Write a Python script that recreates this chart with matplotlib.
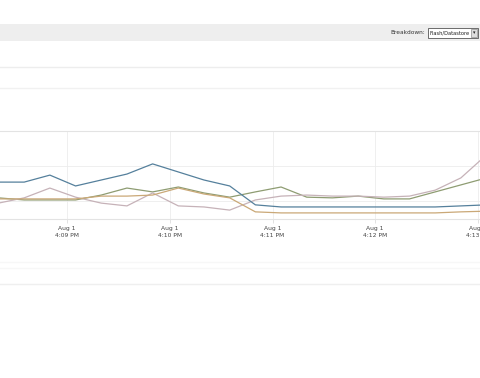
import matplotlib
matplotlib.use("Agg")
import matplotlib.pyplot as plt
from matplotlib.patches import Rectangle
import pandas as pd

# sample times (every 15 s) and series values
times = ["16:08:20", "16:08:35", "16:08:50", "16:09:05", "16:09:20",
         "16:09:35", "16:09:50", "16:10:05", "16:10:20", "16:10:35",
         "16:10:50", "16:11:05", "16:11:20", "16:11:35", "16:11:50",
         "16:12:05", "16:12:20", "16:12:35", "16:12:50", "16:13:05"]

blue = [15.4, 15.4, 17.4, 14.3, 16.0, 17.7, 20.6, 18.3, 16.0, 14.3,
        8.9, 8.3, 8.3, 8.3, 8.3, 8.3, 8.3, 8.3, 8.6, 8.9]
olive = [10.9, 10.3, 10.3, 10.3, 11.7, 13.7, 12.6, 14.0, 12.3, 11.1,
         12.6, 14.0, 11.1, 10.9, 11.4, 10.6, 10.6, 12.6, 14.6, 16.6]
pink = [9.4, 10.9, 13.7, 11.1, 9.4, 8.6, 12.3, 8.6, 8.3, 7.4,
        10.3, 11.4, 11.7, 11.4, 11.4, 11.1, 11.4, 13.1, 16.6, 23.2]
tan = [10.6, 10.6, 10.6, 10.6, 11.4, 11.4, 11.7, 13.7, 12.0, 10.9,
       6.9, 6.6, 6.6, 6.6, 6.6, 6.6, 6.6, 6.6, 6.9, 7.1]

tick_times = ["16:09", "16:10", "16:11", "16:12", "16:13"]
tick_labels = ["Aug 1\n4:09 PM", "Aug 1\n4:10 PM", "Aug 1\n4:11 PM",
               "Aug 1\n4:12 PM", "Aug 1\n4:13 PM"]


def minutes(t):
    # minutes after 16:00
    d = pd.to_datetime("2011-08-01 " + t)
    return (d.hour - 16) * 60 + d.minute + d.second / 60.0


x = [minutes(t) for t in times]
xt = [minutes(t) for t in tick_times]

W, H = 480, 378
fig = plt.figure(figsize=(W / 100, H / 100), dpi=100)
fig.patch.set_facecolor("white")

# toolbar band at the top
fig.add_artist(Rectangle((0, 1 - 41 / H), 1, 17 / H, transform=fig.transFigure,
                         facecolor="#eeeeee", edgecolor="none"))
fig.text(425 / W, 1 - 33 / H, "Breakdown:", fontsize=4.2, color="#333333",
         ha="right", va="center")
fig.add_artist(Rectangle((428 / W, 1 - 38 / H), 50 / W, 10 / H,
                         transform=fig.transFigure, facecolor="white",
                         edgecolor="#555555", linewidth=0.6))
fig.text(429.5 / W, 1 - 33 / H, "Flash/Datastore", fontsize=3.7, color="#222222",
         ha="left", va="center")
fig.add_artist(Rectangle((470.5 / W, 1 - 37 / H), 6.5 / W, 8 / H,
                         transform=fig.transFigure, facecolor="#dddddd",
                         edgecolor="#777777", linewidth=0.4))
fig.text(473.8 / W, 1 - 33 / H, "▾", fontsize=3.5, color="#222222",
         ha="center", va="center")

# faint page rules
for yy, c in [(67, "#ededed"), (88, "#f1f1f1"), (262, "#f7f7f7"),
              (268, "#f7f7f7"), (284, "#efefef")]:
    fig.add_artist(plt.Line2D([0, 1], [1 - yy / H, 1 - yy / H],
                              transform=fig.transFigure, color=c, lw=1))

ax = fig.add_axes([0, 1 - 219 / H, 1, 88 / H])
ax.plot(x, olive, color="#8e9c72", lw=0.9)
ax.plot(x, pink, color="#c6b2b8", lw=0.9)
ax.plot(x, tan, color="#caa877", lw=0.9)
ax.plot(x, blue, color="#55809c", lw=0.9)

ax.set_xlim(9 - 67 / 102.75, 13 + 2 / 102.75)
ax.set_ylim(4.86, 30)
ax.set_yticks([10, 20, 30])
ax.set_xticks(xt)
ax.set_xticklabels(tick_labels, fontsize=4.3, color="#444444", linespacing=1.5)
ax.tick_params(axis="x", length=3, width=0.6, color="#dddddd", pad=2)
ax.tick_params(axis="y", length=0, labelleft=False)
ax.grid(True, color="#ececec", lw=0.6)
ax.set_axisbelow(True)
for s in ["left", "right"]:
    ax.spines[s].set_visible(False)
ax.spines["top"].set_color("#e3e3e3")
ax.spines["top"].set_linewidth(0.8)
ax.spines["bottom"].set_color("#e3e3e3")
ax.spines["bottom"].set_linewidth(0.8)

fig.savefig("out.png", dpi=100)
